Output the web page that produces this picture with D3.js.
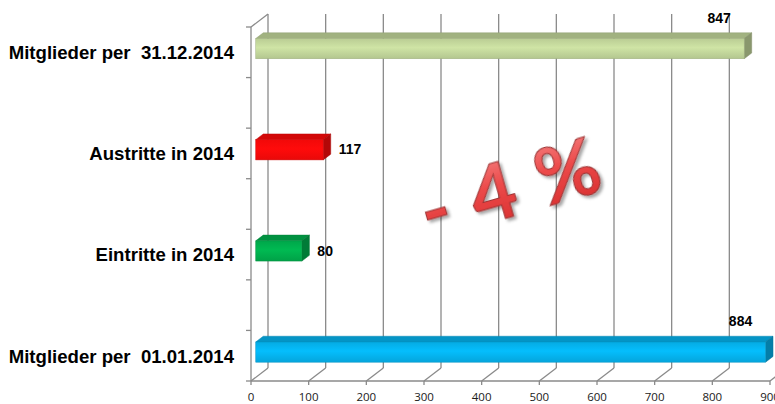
<!DOCTYPE html>
<html>
<head>
<meta charset="utf-8">
<script src="https://cdn.jsdelivr.net/npm/d3@7"></script>
<style>
  html, body { margin: 0; padding: 0; background: #fff; }
  svg { display: block; }
</style>
</head>
<body>
<div id="chart"></div>
<script>
// ---- data ----
const categories = ["Mitglieder per  31.12.2014", "Austritte in 2014", "Eintritte in 2014", "Mitglieder per  01.01.2014"];
const values = [847, 117, 80, 884];
const xTickValues = [0, 100, 200, 300, 400, 500, 600, 700, 800, 900];
const changeLabel = "- 4 %";

// ---- styles ----
const barColors = ["#c4d89c", "#ff0a0a", "#00b04e", "#05b4f0"];
const gridColor = "#8a8a8a";

const W = 775, H = 404;
const svg = d3.select("#chart").append("svg").attr("width", W).attr("height", H);
svg.append("rect").attr("width", W).attr("height", H).attr("fill", "#fff");
const defs = svg.append("defs");

// front plane scales
const x = d3.scaleLinear().domain([0, 900]).range([251, 770]);
const slots = d3.range(categories.length * 2 - 1);
const y = d3.scaleBand().domain(slots).range([27, 381]).padding(0);
const slotOf = i => i * 2;

// depth projection
const DX = 17, DY = 13;
const proj = (px, py, d) => [px + DX * d, py - DY * d];

// ---- walls / gridlines ----
const g = svg.append("g");
g.selectAll("line.grid").data(xTickValues).join("line")
  .attr("class", "grid")
  .attr("x1", d => proj(x(d), 27, 1)[0]).attr("x2", d => proj(x(d), 381, 1)[0])
  .attr("y1", proj(0, 27, 1)[1]).attr("y2", proj(0, 381, 1)[1])
  .attr("stroke", gridColor).attr("stroke-width", 1.3);
g.selectAll("line.floor").data(xTickValues).join("line")
  .attr("class", "floor")
  .attr("x1", d => x(d)).attr("y1", 381)
  .attr("x2", d => proj(x(d), 381, 1)[0]).attr("y2", proj(0, 381, 1)[1])
  .attr("stroke", gridColor).attr("stroke-width", 1.3);
g.append("line")
  .attr("x1", x(0)).attr("y1", 27)
  .attr("x2", proj(x(0), 27, 1)[0]).attr("y2", proj(0, 27, 1)[1])
  .attr("stroke", gridColor).attr("stroke-width", 1.3);
g.append("line").attr("x1", x(0)).attr("x2", x(0)).attr("y1", 27).attr("y2", 381)
  .attr("stroke", gridColor).attr("stroke-width", 1.3);
const yBounds = slots.map(s => y(s)).concat([y.range()[1]]);
g.selectAll("line.ytick").data(yBounds).join("line")
  .attr("x1", x(0) - 5).attr("x2", x(0)).attr("y1", d => d).attr("y2", d => d)
  .attr("stroke", gridColor).attr("stroke-width", 1.3);
g.append("line").attr("x1", x(0)).attr("x2", x(900)).attr("y1", 381).attr("y2", 381)
  .attr("stroke", gridColor).attr("stroke-width", 1.3);
g.selectAll("line.xtick").data(xTickValues).join("line")
  .attr("x1", d => x(d)).attr("x2", d => x(d)).attr("y1", 381).attr("y2", 385)
  .attr("stroke", gridColor).attr("stroke-width", 1.3);
g.selectAll("text.xlab").data(xTickValues).join("text")
  .attr("x", d => x(d)).attr("y", 401)
  .attr("text-anchor", "middle")
  .attr("font-family", "'Open Sans', sans-serif").attr("font-size", 11.5)
  .attr("fill", "#1a1a1a")
  .text(d => d);

// ---- bars ----
const d0 = 0.28, d1 = 0.72;
const bh = y.bandwidth() * 0.4;
const bdx = DX * (d1 - d0), bdy = DY * (d1 - d0);

barColors.forEach((c, i) => {
  const base = d3.color(c);
  const gr = defs.append("linearGradient").attr("id", "gf" + i)
    .attr("x1", 0).attr("y1", 0).attr("x2", 0).attr("y2", 1);
  gr.append("stop").attr("offset", "0%").attr("stop-color", base.darker(0.15));
  gr.append("stop").attr("offset", "45%").attr("stop-color", base.brighter(0.15));
  gr.append("stop").attr("offset", "100%").attr("stop-color", base.darker(0.25));
});

const bars = svg.append("g");
categories.forEach((cat, i) => {
  const v = values[i];
  const c = d3.color(barColors[i]);
  const cy = y(slotOf(i)) + y.bandwidth() / 2;
  const [fx0, fyMid] = proj(x(0), cy, d0);
  const fx1 = proj(x(v), cy, d0)[0];
  const yt = fyMid - bh / 2, yb = fyMid + bh / 2;
  const bg = bars.append("g");
  bg.append("path")
    .attr("d", `M${fx0},${yt}L${fx1},${yt}L${fx1 + bdx},${yt - bdy}L${fx0 + bdx},${yt - bdy}Z`)
    .attr("fill", c.darker(0.55)).attr("stroke", c.darker(0.8)).attr("stroke-width", 0.5);
  bg.append("path")
    .attr("d", `M${fx1},${yt}L${fx1 + bdx},${yt - bdy}L${fx1 + bdx},${yb - bdy}L${fx1},${yb}Z`)
    .attr("fill", c.darker(1.0)).attr("stroke", c.darker(1.2)).attr("stroke-width", 0.5);
  bg.append("rect")
    .attr("x", fx0).attr("y", yt).attr("width", fx1 - fx0).attr("height", bh)
    .attr("fill", `url(#gf${i})`).attr("stroke", c.darker(0.6)).attr("stroke-width", 0.5);

  const lab = bars.append("text")
    .attr("font-family", "'Liberation Sans', Arial, sans-serif")
    .attr("font-weight", "bold").attr("font-size", 14).attr("fill", "#000")
    .text(v);
  const outside = fx1 + bdx + 8;
  if (outside + 30 > W) {
    lab.attr("x", fx1 - 25).attr("y", yt - bdy - 10).attr("text-anchor", "middle");
  } else {
    lab.attr("x", outside).attr("y", fyMid + 1).attr("dominant-baseline", "middle");
  }

  svg.append("text")
    .attr("x", 234).attr("y", cy + 2)
    .attr("text-anchor", "end").attr("dominant-baseline", "middle")
    .attr("font-family", "'Liberation Sans', Arial, sans-serif")
    .attr("font-weight", "bold").attr("font-size", 18.6).attr("fill", "#000")
    .style("white-space", "pre")
    .text(cat);
});

// ---- big change label ----
const tg = defs.append("linearGradient").attr("id", "tgrad")
  .attr("x1", 0).attr("y1", 0).attr("x2", 0).attr("y2", 1);
tg.append("stop").attr("offset", "0%").attr("stop-color", "#f69090");
tg.append("stop").attr("offset", "45%").attr("stop-color", "#ec4a4a");
tg.append("stop").attr("offset", "100%").attr("stop-color", "#d42a2a");
const flt = defs.append("filter").attr("id", "shadow")
  .attr("x", "-20%").attr("y", "-20%").attr("width", "140%").attr("height", "140%");
flt.append("feDropShadow").attr("dx", 2).attr("dy", 3).attr("stdDeviation", 1.8)
  .attr("flood-color", "#000").attr("flood-opacity", 0.35);

svg.append("text")
  .attr("transform", "translate(510,186) rotate(-16)")
  .attr("text-anchor", "middle").attr("dominant-baseline", "central")
  .attr("font-family", "Lato, 'Open Sans', sans-serif")
  .attr("font-size", 78).attr("font-weight", 700)
  .attr("letter-spacing", 2)
  .style("white-space", "pre")
  .attr("fill", "url(#tgrad)").attr("stroke", "#9a3434").attr("stroke-width", 1)
  .attr("filter", "url(#shadow)")
  .text(changeLabel);
</script>
</body>
</html>
